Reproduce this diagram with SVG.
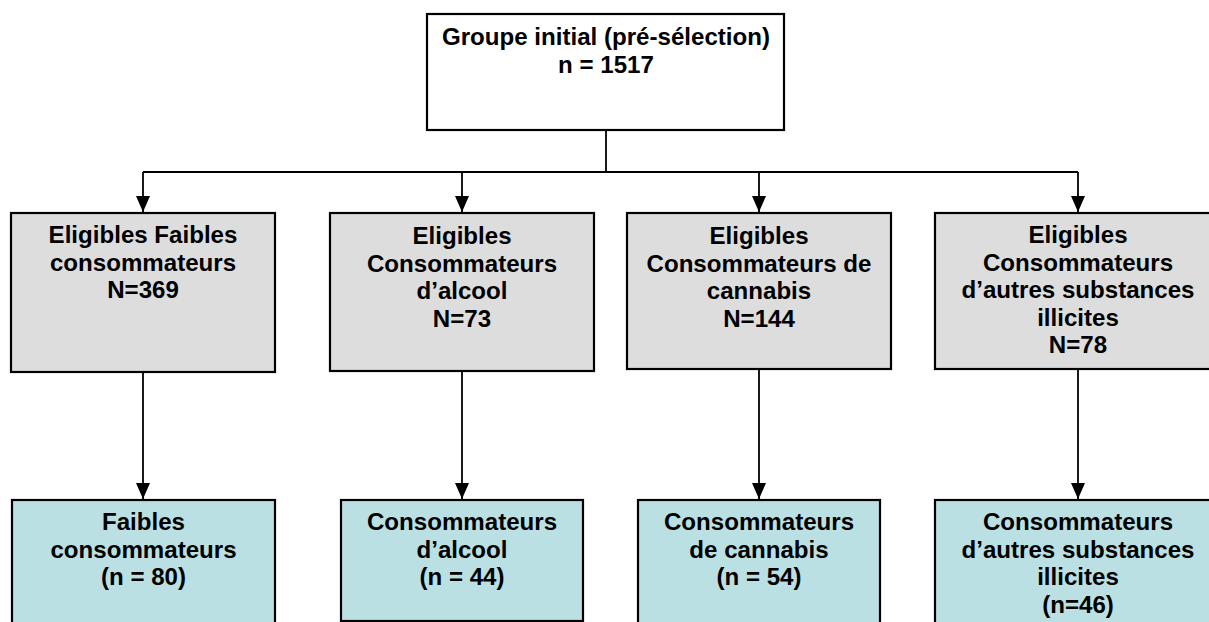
<svg xmlns="http://www.w3.org/2000/svg" width="1209" height="622" viewBox="0 0 1209 622">
<style>
.box{stroke:#000;stroke-width:2.2}
.top{fill:#fff}
.mid{fill:#dddddd}
.bot{fill:#bae0e3}
.t{font-family:"Liberation Sans",Arial,sans-serif;font-weight:bold;font-size:24.1px;fill:#000;text-anchor:middle}
.c{fill:none;stroke:#000;stroke-width:1.8}
</style>
<defs>
<marker id="ah" markerUnits="userSpaceOnUse" markerWidth="16" markerHeight="14" refX="16" refY="7" orient="auto">
<path d="M0,0 L16,7 L0,14 z" fill="#000"/>
</marker>
</defs>
<rect width="1209" height="622" fill="#fff"/>
<g id="connectors">
<path class="c" d="M606,130 V172"/>
<path class="c" d="M143,172 H1078"/>
<path class="c" d="M143,172 V212" marker-end="url(#ah)"/>
<path class="c" d="M462,172 V212" marker-end="url(#ah)"/>
<path class="c" d="M759,172 V212" marker-end="url(#ah)"/>
<path class="c" d="M1078,172 V212" marker-end="url(#ah)"/>
<path class="c" d="M143,371 V499" marker-end="url(#ah)"/>
<path class="c" d="M462,371 V499" marker-end="url(#ah)"/>
<path class="c" d="M759,369 V499" marker-end="url(#ah)"/>
<path class="c" d="M1078,369 V499" marker-end="url(#ah)"/>
</g>
<g id="n0">
<rect class="box top" x="427" y="14" width="357" height="116"/>
<text class="t" x="606" y="45">Groupe initial (pré-sélection)</text>
<text class="t" x="606" y="73">n = 1517</text>
</g>
<g id="m1">
<rect class="box mid" x="11" y="213" width="264" height="159"/>
<text class="t" x="143" y="243">Eligibles Faibles</text>
<text class="t" x="143" y="270.5">consommateurs</text>
<text class="t" x="143" y="298">N=369</text>
</g>
<g id="m2">
<rect class="box mid" x="330" y="213" width="264" height="158"/>
<text class="t" x="462" y="244">Eligibles</text>
<text class="t" x="462" y="271.5">Consommateurs</text>
<text class="t" x="462" y="299">d’alcool</text>
<text class="t" x="462" y="326.5">N=73</text>
</g>
<g id="m3">
<rect class="box mid" x="627" y="213" width="264" height="156"/>
<text class="t" x="759" y="244">Eligibles</text>
<text class="t" x="759" y="271.5">Consommateurs de</text>
<text class="t" x="759" y="299">cannabis</text>
<text class="t" x="759" y="326.5">N=144</text>
</g>
<g id="m4">
<rect class="box mid" x="935" y="213" width="286" height="156"/>
<text class="t" x="1078" y="243">Eligibles</text>
<text class="t" x="1078" y="270.5">Consommateurs</text>
<text class="t" x="1078" y="298">d’autres substances</text>
<text class="t" x="1078" y="325.5">illicites</text>
<text class="t" x="1078" y="353">N=78</text>
</g>
<g id="b1">
<rect class="box bot" x="12" y="500" width="263" height="126"/>
<text class="t" x="143.5" y="530">Faibles</text>
<text class="t" x="143.5" y="557.5">consommateurs</text>
<text class="t" x="143.5" y="585">(n = 80)</text>
</g>
<g id="b2">
<rect class="box bot" x="341" y="500" width="242" height="121"/>
<text class="t" x="462" y="530">Consommateurs</text>
<text class="t" x="462" y="557.5">d’alcool</text>
<text class="t" x="462" y="585">(n = 44)</text>
</g>
<g id="b3">
<rect class="box bot" x="638" y="500" width="242" height="126"/>
<text class="t" x="759" y="530">Consommateurs</text>
<text class="t" x="759" y="557.5">de cannabis</text>
<text class="t" x="759" y="585">(n = 54)</text>
</g>
<g id="b4">
<rect class="box bot" x="935" y="500" width="286" height="126"/>
<text class="t" x="1078" y="530">Consommateurs</text>
<text class="t" x="1078" y="557.5">d’autres substances</text>
<text class="t" x="1078" y="585">illicites</text>
<text class="t" x="1078" y="612.5">(n=46)</text>
</g>
</svg>
